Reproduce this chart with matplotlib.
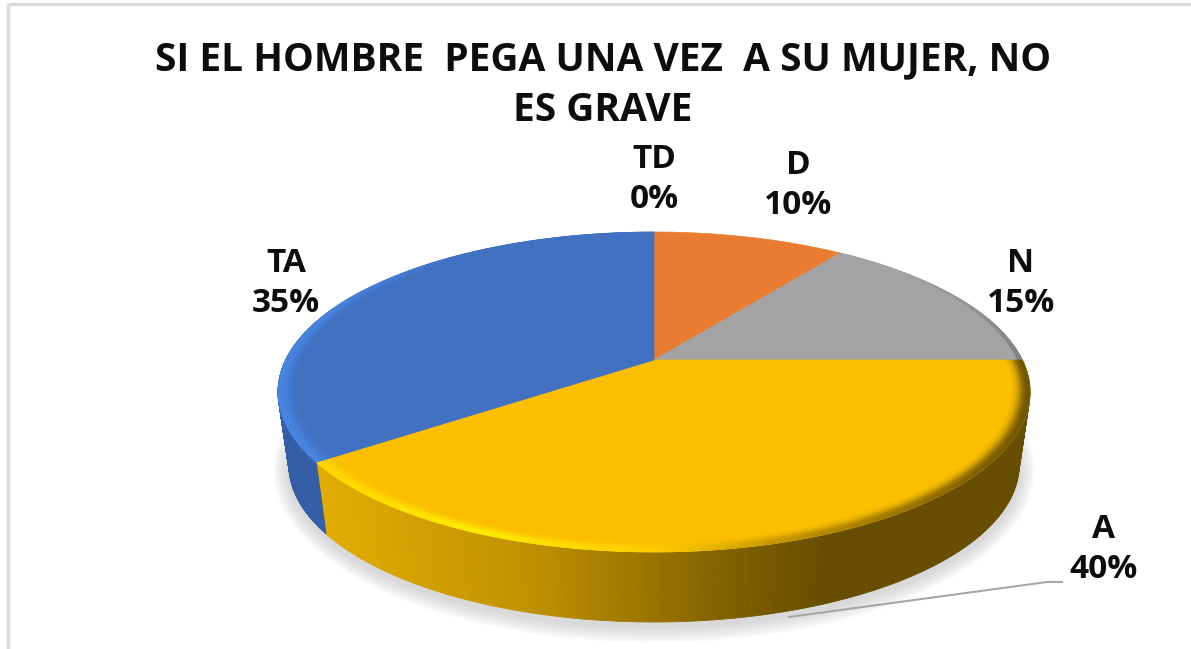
import numpy as np
import matplotlib
matplotlib.use('Agg')
import matplotlib.pyplot as plt
from matplotlib.collections import PolyCollection
from matplotlib.colors import LinearSegmentedColormap, to_rgb
from matplotlib.patches import Ellipse, Polygon

categories = ['TD', 'D', 'N', 'A', 'TA']
values = [0, 10, 15, 40, 35]
colors = ['#5B9BD5', '#E97C30', '#A3A3A3', '#FBBF00', '#4271C2']
label_x = [654, 798, 1021, 1103, 286]
label_y = [179, 185, 284, 550, 284]
title = 'SI EL HOMBRE  PEGA UNA VEZ  A SU MUJER, NO\nES GRAVE'

plt.rcParams['font.family'] = ['Open Sans', 'DejaVu Sans']

W, H = 1191, 649
fig = plt.figure(figsize=(W / 100, H / 100), dpi=100)
ax = fig.add_axes([0, 0, 1, 1])
ax.set_xlim(0, W)
ax.set_ylim(H, 0)
ax.axis('off')

# elipses de la cara superior e inferior del pastel
top = (654, 392, 376, 160)
bottom = (654, 465, 365, 157)
# desplazamiento del vertice por la perspectiva
d = 0.2


def project(theta, ell, s=1.0):
    # theta en grados, sentido horario desde arriba
    t = np.radians(theta)
    u = s * np.sin(t)
    v = s * np.cos(t)
    den = 1 + d * v
    uu = u * np.sqrt(1 - d ** 2) / den
    vv = (v + d) / den
    return np.column_stack([ell[0] + ell[2] * uu, ell[1] - ell[3] * vv])


def mix(c1, c2, w):
    return tuple((1 - w) * np.array(to_rgb(c1)) + w * np.array(to_rgb(c2)))


def rgb(*c):
    return tuple(x / 255 for x in c)


side_yellow = LinearSegmentedColormap.from_list('side', [
    (0.0, rgb(226, 172, 0)), (0.3, rgb(190, 145, 0)), (0.55, rgb(135, 102, 0)),
    (0.72, rgb(102, 77, 0)), (1.0, rgb(102, 77, 0))])
rim_yellow = LinearSegmentedColormap.from_list('rim', [
    (0.0, rgb(255, 215, 0)), (0.22, rgb(255, 238, 0)), (0.48, rgb(255, 205, 0)),
    (0.66, rgb(190, 145, 0)), (1.0, rgb(110, 84, 0))])

# marco gris
ax.plot([7.5, 7.5], [H, 4], color='#D9D9D9', lw=2.5, solid_capstyle='butt')
ax.plot([7.5, W], [4, 4], color='#D9D9D9', lw=2.5, solid_capstyle='butt')

# sombra
for grow in np.arange(16, 0, -1.5):
    ax.add_patch(Ellipse((654, 470), 2 * (bottom[2] + grow), 2 * (bottom[3] + grow),
                         color='#808080', alpha=0.028, lw=0))

cum = np.cumsum([0] + values) * 3.6
starts, ends = cum[:-1], cum[1:]

# paredes laterales (solo las visibles al frente)
for name, c, a, b in zip(categories, colors, starts, ends):
    lo, hi = max(a, 90), min(b, 300)
    if name not in ('A', 'TA') or hi <= lo:
        continue
    th = np.linspace(lo, hi, 200)
    p_top = project(th, top)
    p_bot = project(th, bottom)
    quads, fc = [], []
    for i in range(len(th) - 1):
        quads.append([p_top[i], p_top[i + 1], p_bot[i + 1], p_bot[i]])
        if name == 'A':
            fc.append(side_yellow((p_top[i, 0] - 320) / 710))
        else:
            fc.append(rgb(52, 94, 165))
    ax.add_collection(PolyCollection(quads, facecolors=fc, edgecolors=fc, linewidths=0.6))

# caras superiores
for name, c, a, b in zip(categories, colors, starts, ends):
    if b <= a:
        continue
    th = np.linspace(a, b, 200)
    rim = project(th, top)
    apex = project(np.array([0.0]), top, 0.0)
    ax.add_patch(Polygon(np.vstack([apex, rim]), closed=True, fc=c, ec=c, lw=0.5))

# bisel del borde, de fuera hacia dentro
ring_s = np.linspace(1.0, 0.955, 10)
ring_w = [1.0, 1.0, 0.95, 0.85, 0.7, 0.5, 0.32, 0.18, 0.08]
for name, c, a, b in zip(categories, colors, starts, ends):
    if b <= a or name == 'D':
        continue
    th = np.linspace(a, b, 200)
    for s1, s2, w in zip(ring_s[:-1], ring_s[1:], ring_w):
        p1 = project(th, top, s1)
        p2 = project(th, top, s2)
        quads, fc = [], []
        for i in range(len(th) - 1):
            quads.append([p1[i], p1[i + 1], p2[i + 1], p2[i]])
            if name == 'A':
                fc.append(mix(c, rim_yellow((p1[i, 0] - 320) / 710)[:3], w))
            elif name == 'TA':
                k = np.clip((325 - th[i]) / 35, 0, 1)
                fc.append(mix(c, rgb(72, 133, 225), w * k))
            else:
                k = np.clip((th[i] - 50) / 40, 0, 1) * (s1 > 0.985)
                fc.append(mix(c, rgb(120, 120, 120), w * k * 0.8))
        ax.add_collection(PolyCollection(quads, facecolors=fc, edgecolors=fc, linewidths=0.4))

# linea guia de la etiqueta A
ax.plot([789, 1047, 1062], [617, 582, 582], color='#A6A6A6', lw=1.5)

# titulo y etiquetas
ax.text(603, 85, title, ha='center', va='center', fontsize=28, fontweight='bold',
        color='#0D0D0D', linespacing=1.4)
for name, val, x, y in zip(categories, values, label_x, label_y):
    ax.text(x, y, f'{name}\n{val}%', ha='center', va='center', fontsize=24,
            fontweight='bold', color='#0D0D0D', linespacing=1.28)

fig.savefig('out.png', dpi=100)
